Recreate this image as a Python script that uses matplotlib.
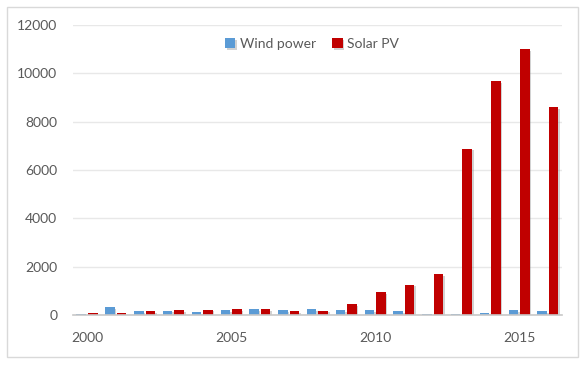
import numpy as np
import matplotlib
matplotlib.use("Agg")
import matplotlib.pyplot as plt
import matplotlib.patheffects as pe
from matplotlib.patches import Rectangle

years = list(range(2000, 2017))
wind_power = [30, 330, 150, 180, 130, 200, 240, 210, 230, 210, 200, 165, 50, 50, 100, 200, 150]
solar_pv = [90, 80, 150, 200, 220, 240, 240, 150, 180, 440, 950, 1260, 1690, 6880, 9680, 11000, 8600]
tick_years = [2000, 2005, 2010, 2015]

WIND_COLOR = "#5B9BD5"
SOLAR_COLOR = "#C00000"
TEXT_COLOR = "#595959"

plt.rcParams["font.family"] = ["Lato", "DejaVu Sans"]


def plot(out_path):
    fig = plt.figure(figsize=(5.83, 3.66), dpi=100)
    ax = fig.add_axes([0.1245, 0.1393, 0.840, 0.7924])

    x = np.arange(len(years))
    width = 0.33
    shadow = [pe.SimplePatchShadow(offset=(1.2, -1.2), shadow_rgbFace="#808080", alpha=0.35), pe.Normal()]

    ax.bar(x - 0.2, wind_power, width, color=WIND_COLOR, label="Wind power",
           path_effects=shadow, zorder=3)
    ax.bar(x + 0.2, solar_pv, width, color=SOLAR_COLOR, label="Solar PV",
           path_effects=shadow, zorder=3)

    ax.set_xlim(-0.5, len(years) - 0.5)
    ax.set_ylim(0, 12000)
    ax.set_yticks(range(0, 12001, 2000))
    ax.set_xticks([years.index(y) for y in tick_years])
    ax.set_xticklabels([str(y) for y in tick_years])

    ax.grid(axis="y", color="#E8E8E8", linewidth=1, zorder=0)
    ax.set_axisbelow(True)
    for side in ["left", "right", "top"]:
        ax.spines[side].set_visible(False)
    ax.spines["bottom"].set_color("#C8C8C8")
    ax.spines["bottom"].set_linewidth(1.2)
    ax.spines["bottom"].set_zorder(4)

    ax.tick_params(axis="both", length=0, labelsize=10, colors=TEXT_COLOR)
    ax.tick_params(axis="y", pad=11)
    ax.tick_params(axis="x", pad=12)

    fig.legend(loc="center", bbox_to_anchor=(0.535, 0.880), ncol=2, frameon=False,
               fontsize=10, handlelength=0.75, handleheight=0.75, handletextpad=0.3,
               columnspacing=1.2, labelcolor=TEXT_COLOR)

    fig.patches.append(Rectangle((0.012, 0.0246), 0.9794, 0.9564, transform=fig.transFigure,
                                 fill=False, edgecolor="#D9D9D9", linewidth=1))

    fig.savefig(out_path, dpi=100)


if __name__ == "__main__":
    plot("out.png")
